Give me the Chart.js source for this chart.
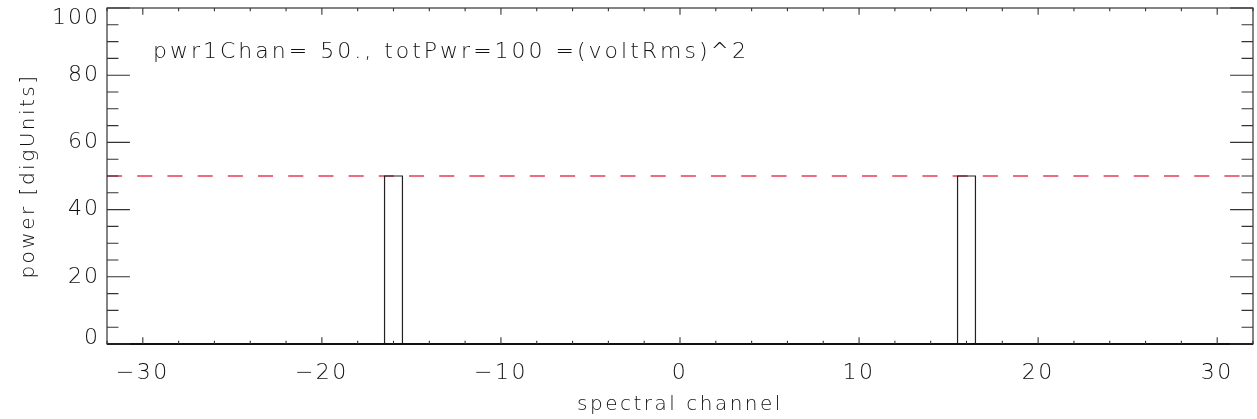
<!DOCTYPE html>
<html>
<head>
<meta charset="utf-8">
<script src="https://cdn.jsdelivr.net/npm/chart.js@4.4.1/dist/chart.umd.min.js"></script>
<style>
    html, body { margin: 0; padding: 0; background: #fff; }
    #wrap { width: 1257px; height: 419px; }
</style>
</head>
<body>
<div id="wrap"><canvas id="spectrumChart" width="1257" height="419"></canvas></div>
<script>
// spectrum values
const channels = [-16, 16];
const power = [50, 50];
const binWidth = 1;
const pwr1Chan = 50;
const totPwr = 100;
const xRange = [-32, 32];
const yRange = [0, 100];
const xMajor = 10, xMinor = 2;
const yMajor = 20, yMinor = 5;

const FONT = "'DejaVu Sans', sans-serif";
const INK = '#111';

window.addEventListener('load', initialize);

function initialize() {
    loadSpectrumChart();
}

// IDL prints a real minus sign
function fmtTick(v) {
    return v < 0 ? '\u2212' + Math.abs(v) : String(v);
}

// outline of each histogram bin (psym=10 look)
function binOutline() {
    const pts = [];
    for (let i = 0; i < channels.length; i++) {
        const lo = channels[i] - binWidth / 2;
        const hi = channels[i] + binWidth / 2;
        pts.push({ x: lo, y: 0 }, { x: lo, y: power[i] }, { x: hi, y: power[i] }, { x: hi, y: 0 }, { x: NaN, y: NaN });
    }
    return pts;
}

// Hershey font is wide, fake it with letter spacing
const spacing = {
    id: 'spacing',
    beforeDraw(chart) { chart.ctx.letterSpacing = '2.5px'; }
};

// IDL style box: ticks pointing inward on all four sides
const idlBox = {
    id: 'idlBox',
    afterDatasetsDraw(chart) {
        const { ctx, chartArea: a, scales: { x, y } } = chart;
        const w = a.right - a.left, h = a.bottom - a.top;
        ctx.save();
        ctx.strokeStyle = '#333';
        ctx.lineWidth = 1.2;
        ctx.strokeRect(a.left, a.top, w, h);
        ctx.strokeStyle = INK;
        ctx.lineWidth = 1.8;
        ctx.beginPath();
        ctx.moveTo(a.left, a.bottom); ctx.lineTo(a.right, a.bottom);
        ctx.stroke();

        ctx.strokeStyle = '#333';
        ctx.lineWidth = 1.1;
        ctx.beginPath();
        for (let v = Math.ceil(xRange[0] / xMinor) * xMinor; v <= xRange[1]; v += xMinor) {
            const len = (v % xMajor === 0) ? 0.02 * h : 0.01 * h;
            const px = x.getPixelForValue(v);
            ctx.moveTo(px, a.bottom); ctx.lineTo(px, a.bottom - len);
            ctx.moveTo(px, a.top); ctx.lineTo(px, a.top + len);
        }
        for (let v = yRange[0]; v <= yRange[1]; v += yMinor) {
            const len = (v % yMajor === 0) ? 0.02 * w : 0.01 * w;
            const py = y.getPixelForValue(v);
            ctx.moveTo(a.left, py); ctx.lineTo(a.left + len, py);
            ctx.moveTo(a.right, py); ctx.lineTo(a.right - len, py);
        }
        ctx.stroke();

        // y tick labels, kept inside the axis range like IDL does
        ctx.fillStyle = INK;
        ctx.font = `200 22px ${FONT}`;
        ctx.letterSpacing = '2px';
        ctx.textAlign = 'right';
        ctx.textBaseline = 'middle';
        for (const t of y.ticks) {
            let py = y.getPixelForValue(t.value);
            py = Math.min(Math.max(py, a.top + 10), a.bottom - 6);
            ctx.fillText(fmtTick(t.value), a.left - 7, py);
        }

        // annotation
        ctx.font = `200 22px ${FONT}`;
        ctx.letterSpacing = '3px';
        ctx.textAlign = 'left';
        ctx.textBaseline = 'alphabetic';
        ctx.fillText(`pwr1Chan= ${pwr1Chan}., totPwr=${totPwr} =(voltRms)^2`, a.left + 46, a.top + 50);
        ctx.restore();
    }
};

function loadSpectrumChart() {
    const ctx = document.getElementById('spectrumChart').getContext('2d');
    new Chart(ctx, {
        type: 'line',
        data: {
            datasets: [{
                label: 'power',
                data: binOutline(),
                borderColor: '#222',
                borderWidth: 1.2,
                pointRadius: 0,
                fill: false,
                spanGaps: false,
                tension: 0
            }, {
                label: 'pwr1Chan',
                data: [{ x: xRange[0], y: pwr1Chan }, { x: xRange[1], y: pwr1Chan }],
                borderColor: '#e63c5a',
                borderWidth: 1.4,
                borderDash: [15.1, 15.1],
                pointRadius: 0,
                fill: false
            }]
        },
        options: {
            responsive: false,
            animation: false,
            layout: { padding: { top: 8, right: 4, left: 0, bottom: 0 } },
            plugins: { legend: { display: false }, tooltip: { enabled: false } },
            scales: {
                x: {
                    type: 'linear',
                    min: xRange[0],
                    max: xRange[1],
                    grid: { display: false, drawTicks: false },
                    border: { display: false },
                    ticks: {
                        stepSize: xMajor,
                        includeBounds: false,
                        padding: 16,
                        color: INK,
                        maxRotation: 0,
                        callback: v => fmtTick(v),
                        font: { family: FONT, size: 22, weight: 200 }
                    },
                    title: {
                        display: true,
                        text: 'spectral channel',
                        color: INK,
                        padding: { top: 0, bottom: 2 },
                        font: { family: FONT, size: 20, weight: 200 }
                    },
                    afterFit(scale) { scale.height = 75; }
                },
                y: {
                    type: 'linear',
                    min: yRange[0],
                    max: yRange[1],
                    grid: { display: false, drawTicks: false },
                    border: { display: false },
                    ticks: { stepSize: yMajor, display: false },
                    title: {
                        display: true,
                        text: 'power [digUnits]',
                        color: INK,
                        padding: { top: 17, bottom: 0 },
                        font: { family: FONT, size: 20, weight: 200 }
                    },
                    afterFit(scale) { scale.width = 107; }
                }
            }
        },
        plugins: [spacing, idlBox]
    });
}
</script>
</body>
</html>
